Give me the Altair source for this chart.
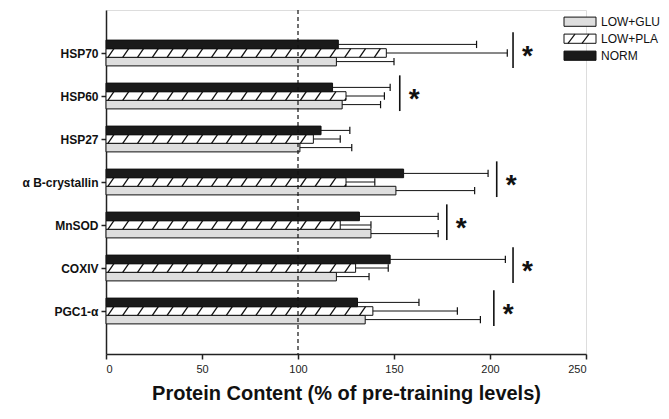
import json
import pandas as pd
import altair as alt

# ---------------- data ----------------
categories = ["HSP70", "HSP60", "HSP27", "α B-crystallin", "MnSOD", "COXIV", "PGC1-α"]
series = ["LOW+GLU", "LOW+PLA", "NORM"]
glu_mean = [120, 123, 101, 151, 138, 120, 135]
glu_err = [30, 20, 27, 41, 35, 17, 60]
pla_mean = [146, 125, 108, 125, 122, 130, 139]
pla_err = [63, 20, 14, 15, 16, 17, 44]
norm_mean = [121, 118, 112, 155, 132, 148, 131]
norm_err = [72, 30, 15, 44, 41, 60, 32]
sig_line_x = [212, 153, None, 203.5, 177.5, 212, 202]
x_ticks = [0, 50, 100, 150, 200, 250]
ref_level = 100

# ---------------- layout constants ----------------
W, H = 480, 344
X_MAX = 250
Y_MAX = 8
px_x = X_MAX / W      # data units per pixel (x)
px_y = Y_MAX / H      # data units per pixel (y)
offsets = {"NORM": -0.2, "LOW+PLA": 0.0, "LOW+GLU": 0.2}
half = 0.1
cap = 0.085
colors = {"LOW+GLU": "#dedede", "LOW+PLA": "#ffffff", "NORM": "#1a1a1a"}
FONT = "Liberation Sans"

means = {"LOW+GLU": glu_mean, "LOW+PLA": pla_mean, "NORM": norm_mean}
errs = {"LOW+GLU": glu_err, "LOW+PLA": pla_err, "NORM": norm_err}

rows = []
for s in series:
    for i, c in enumerate(categories):
        pos = i + 1
        yc = pos + offsets[s]
        m = means[s][i]
        e = errs[s][i]
        rows.append(dict(cat=c, series=s, zero=0, mean=m, end=m + e,
                         y0=yc - half, y1=yc + half, yc=yc,
                         c0=yc - cap, c1=yc + cap))
df = pd.DataFrame(rows)

# hatch segments for LOW+PLA bars ("/" strokes)
step = 14.8 * px_x
dx = 6.0 * px_x
hrows = []
for i, c in enumerate(categories):
    pos = i + 1
    yb = pos + offsets["LOW+PLA"] + half
    yt = pos + offsets["LOW+PLA"] - half
    m = pla_mean[i]
    x0 = 1.0
    while x0 < m - 0.5:
        x1 = x0 + dx
        ye = yt
        if x1 > m:
            frac = (m - x0) / dx
            ye = yb + (yt - yb) * frac
            x1 = m
        hrows.append(dict(x=x0, x2=x1, y=yb, y2=ye))
        x0 += step
hatch = pd.DataFrame(hrows)

sig = pd.DataFrame([dict(x=sx, xs=sx + 7.5, y0=i + 1 - 0.48, y1=i + 1 + 0.35, yt=i + 1)
                    for i, sx in enumerate(sig_line_x) if sx is not None])

# legend (drawn as marks, to the right of the plot area)
lx0 = (564 - 106) * px_x
lx1 = (596 - 106) * px_x
ltx = (601 - 106) * px_x
leg_rows = []
for k, s in enumerate(series):
    yc = (11.7 + 17 * k) * px_y
    leg_rows.append(dict(series=s, x0=lx0, x1=lx1, tx=ltx, yc=yc,
                         y0=yc - 4.6 * px_y, y1=yc + 4.6 * px_y))
leg = pd.DataFrame(leg_rows)
lh = []
yc = leg_rows[1]["yc"]
for off in (4, 18):
    lh.append(dict(x=lx0 + off * px_x, x2=lx0 + (off + 7) * px_x,
                   y=yc + 4.6 * px_y, y2=yc - 4.6 * px_y))
leg_hatch = pd.DataFrame(lh)

# ---------------- scales / axes ----------------
xscale = alt.Scale(domain=[0, X_MAX], nice=False, zero=True)
yscale = alt.Scale(domain=[0, Y_MAX], reverse=True, nice=False, zero=True)
fill_scale = alt.Scale(domain=series, range=[colors[s] for s in series])

label_expr = "datum.value >= 1 && datum.value <= 7 ? " + json.dumps(categories) + "[datum.value - 1] : ''"

xaxis = alt.Axis(values=x_ticks, grid=False, title="Protein Content (% of pre-training levels)",
                 titleFont=FONT, titleFontSize=20, titleFontWeight="bold", titleColor="#111",
                 titlePadding=9, labelFont=FONT, labelFontSize=11, labelColor="#222",
                 labelPadding=4, tickSize=5, tickColor="#222", tickWidth=1.5,
                 domainColor="#222", domainWidth=1.5)
yaxis = alt.Axis(values=[1, 2, 3, 4, 5, 6, 7], labelExpr=label_expr, grid=False, title=None,
                 labelFont=FONT, labelFontSize=12, labelFontWeight="bold", labelColor="#111",
                 labelPadding=3, tickSize=5, tickColor="#222", tickWidth=1.5,
                 domainColor="#222", domainWidth=1.5)

bars = alt.Chart(df).mark_rect(stroke="#111", strokeWidth=1).encode(
    x=alt.X("zero:Q", scale=xscale, axis=xaxis),
    x2="mean:Q",
    y=alt.Y("y0:Q", scale=yscale, axis=yaxis),
    y2="y1:Q",
    fill=alt.Fill("series:N", scale=fill_scale, legend=None),
)

hatch_layer = alt.Chart(hatch).mark_rule(color="#111", strokeWidth=1.3).encode(
    x="x:Q", x2="x2:Q", y="y:Q", y2="y2:Q")

err_line = alt.Chart(df).mark_rule(color="#111", strokeWidth=1).encode(
    x="mean:Q", x2="end:Q", y="yc:Q")
err_cap = alt.Chart(df).mark_rule(color="#111", strokeWidth=1.2).encode(
    x="end:Q", y="c0:Q", y2="c1:Q")

ref_rule = alt.Chart(pd.DataFrame({"x": [ref_level], "y0": [0], "y1": [Y_MAX]})).mark_rule(
    color="#111", strokeWidth=1.2, strokeDash=[4, 3]).encode(x="x:Q", y="y0:Q", y2="y1:Q")

sig_rule = alt.Chart(sig).mark_rule(color="#111", strokeWidth=1.6).encode(
    x="x:Q", y="y0:Q", y2="y1:Q")
sig_star = alt.Chart(sig).mark_text(text="*", font=FONT, fontSize=28, fontWeight="bold",
                                    color="#111", baseline="alphabetic", align="center", dy=12).encode(
    x="xs:Q", y="yt:Q")

leg_box = alt.Chart(leg).mark_rect(stroke="#111", strokeWidth=1).encode(
    x="x0:Q", x2="x1:Q", y="y0:Q", y2="y1:Q",
    fill=alt.Fill("series:N", scale=fill_scale, legend=None))
leg_h = alt.Chart(leg_hatch).mark_rule(color="#111", strokeWidth=1.2).encode(
    x="x:Q", x2="x2:Q", y="y:Q", y2="y2:Q")
leg_text = alt.Chart(leg).mark_text(font=FONT, fontSize=12, color="#111", align="left",
                                    baseline="middle").encode(
    x="tx:Q", y="yc:Q", text="series:N")

chart = alt.layer(bars, hatch_layer, err_line, err_cap, ref_rule, sig_rule, sig_star,
                  leg_box, leg_h, leg_text).properties(
    width=W, height=H,
    autosize=alt.AutoSizeParams(type="none"),
    padding={"left": 98, "top": 2, "right": 75, "bottom": 55}
).configure_view(stroke=None).configure(background="white")

chart.save("out.html", embed_options={"renderer": "svg", "actions": False})
